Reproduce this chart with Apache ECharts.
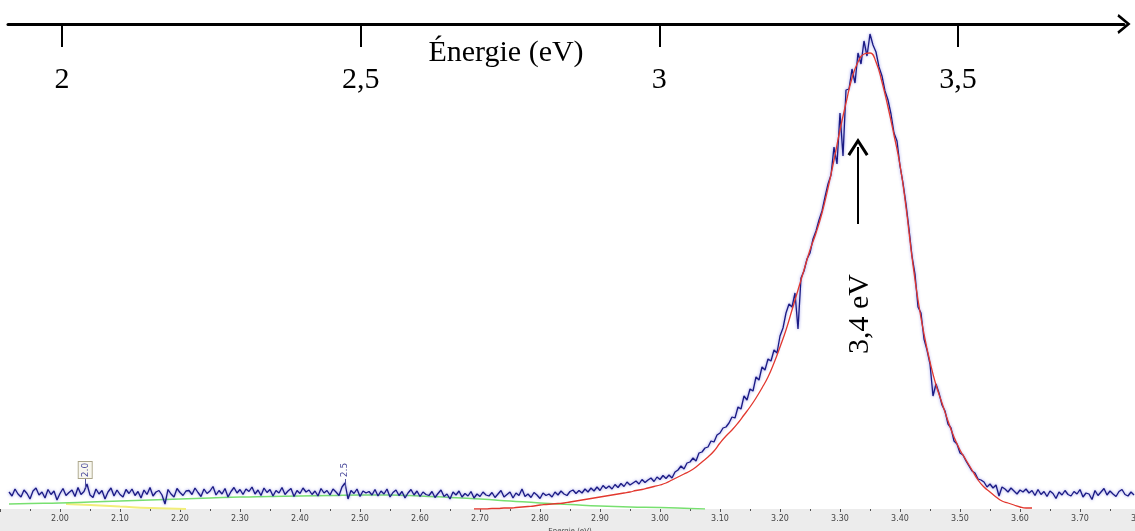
<!DOCTYPE html>
<html><head><meta charset="utf-8">
<script src="https://cdn.jsdelivr.net/npm/echarts@6/dist/echarts.min.js"></script>
<style>html,body{margin:0;padding:0;background:#fff;overflow:hidden}#c{width:1135px;height:531px}</style>
</head><body><div id="c"></div>
<script>
// ---- data (intensity, arbitrary units) ----
const blueStart = 1.915, blueStep = 0.005;
const blueIntensity = [
 34,26,40,30,24,38,31,20,36,42,28,34,22,39,29,36,18,31,41,27,
 33,38,25,43,29,35,50,28,23,40,30,37,20,34,42,26,38,29,24,39,
 31,40,27,35,22,38,29,43,26,34,37,28,10,39,30,24,41,33,27,36,
 37,29,42,33,25,40,31,36,45,28,37,30,41,24,35,43,32,39,29,40,
 35,44,30,38,27,42,33,39,26,37,32,43,29,36,41,25,37,31,42,34,
 38,29,36,26,41,32,37,28,40,34,27,44,52,20,37,31,40,25,36,32,
 35,28,39,26,36,30,40,24,33,38,27,35,22,32,39,28,36,25,34,29,
 27,35,23,31,38,25,30,20,34,28,36,24,31,26,35,22,30,25,34,28,
 26,33,23,30,37,24,29,34,22,32,27,40,25,30,23,33,28,21,32,27,
 30,24,34,28,36,30,27,35,38,31,37,32,40,34,42,36,44,37,47,41,
 46,40,49,43,51,45,54,48,52,56,50,59,53,58,62,55,64,59,67,61,
 68,62,74,78,86,80,92,94,102,96,112,114,122,124,136,134,148,152,162,164,
 172,184,182,204,200,226,218,240,236,264,258,284,278,300,296,318,312,346,362,392,
 410,404,432,360,462,476,500,512,540,556,578,596,624,650,668,724,690,792,706,838,
 840,880,852,912,890,936,906,950,928,914,884,866,836,818,790,752,736,686,652,610,
 560,506,470,404,392,340,318,290,226,250,232,208,196,170,162,136,130,112,108,96,
 86,76,72,60,58,54,44,50,42,48,26,44,40,34,42,36,30,38,34,40,
 32,37,27,39,29,35,25,36,31,21,34,28,37,29,26,35,30,39,24,32,
 30,19,37,27,34,41,28,36,30,25,35,39,29,26,34,28
];
const fitStart = 2.69, fitStep = 0.01;
const fitIntensity = [
 0,0,0,1,1,2,2,3,4,5,
 6,8,9,10,11,12,14,16,18,20,
 22,24,26,28,30,32,34,37,39,42,
 45,48,52,58,64,70,76,84,94,104,
 116,132,146,158,172,188,204,222,242,264,
 292,324,358,398,438,478,518,552,592,642,
 698,758,812,862,894,910,912,894,854,804,
 748,688,604,504,418,350,294,248,212,176,
 144,118,98,78,58,44,34,24,16,12,
 8,4,2,2
];
const greenEnergy = [1.915,1.95,2.00,2.05,2.10,2.15,2.20,2.25,2.30,2.35,2.40,2.45,2.50,2.55,2.60,2.65,2.70,2.75,2.80,2.85,2.90,2.95,3.00,3.05,3.075];
const greenIntensity = [10,11,12,14,16,18,20,22,24,25,26,27,28,28,26,23,20,16,12,9,6,4,3,1,0];
const yellowEnergy = [2.01,2.05,2.10,2.15,2.21];
const yellowIntensity = [10,8,5,2,0];
const topTickValues = [2, 2.5, 3, 3.5];
const topAxisTitle = 'Énergie (eV)';
const bottomAxisTitle = 'Energie (eV)';
const peakText = '3,4 eV';
const peakMarks = [{e:2.042, label:'2.0', boxed:true}, {e:2.475, label:'2.5', boxed:false}];

// ---- build ----
const blueData = blueIntensity.map((v,i)=>[+(blueStart+i*blueStep).toFixed(3), v]);
const fitData = fitIntensity.map((v,i)=>[+(fitStart+i*fitStep).toFixed(2), v]);
const greenData = greenEnergy.map((e,i)=>[e, greenIntensity[i]]);
const yellowData = yellowEnergy.map((e,i)=>[e, yellowIntensity[i]]);

const chevron = 'path://M0,12 L10,0 L20,12 L17.6,13.2 L10,4 L2.4,13.2 Z';
const serif = '"Liberation Serif", "Times New Roman", serif';

const chart = echarts.init(document.getElementById('c'), null, {renderer:'canvas'});
const markPointData = [];
const markLineData = [];
peakMarks.forEach(p=>{
  markPointData.push({
    coord:[p.e, 78], symbol:'rect', symbolSize: p.boxed ? [14,17] : [1,1],
    itemStyle: p.boxed ? {color:'#f8f7ef', borderColor:'#aaa488', borderWidth:1} : {color:'rgba(0,0,0,0)'},
    label:{show:true, position:'inside', formatter:p.label, rotate:90, fontSize:9, color:'#4c4c9c', fontFamily:'"DejaVu Sans", sans-serif'}
  });
  markLineData.push([{coord:[p.e, 60], symbol:'none'}, {coord:[p.e, 42], symbol:'none', lineStyle:{color:'#5050a0', width:1}}]);
});
markPointData.push({
  coord:[3.3333, 390], symbol:'rect', symbolSize:[1,1], itemStyle:{color:'rgba(0,0,0,0)'},
  label:{show:true, position:'inside', formatter:peakText, rotate:90, fontSize:30, fontFamily:serif, color:'#000'}
});
markLineData.push([{coord:[3.33, 570], symbol:'none'}, {coord:[3.33, 724], symbol:chevron, symbolSize:[21,18], lineStyle:{color:'#000', width:2, type:'solid'}}]);

chart.setOption({
  animation:false,
  backgroundColor:'#fff',
  grid:[
    {left:0, right:-5, top:9, bottom:22, containLabel:false, outerBoundsMode:'none'},
    {left:8, right:11, top:23, height:1, containLabel:false, outerBoundsMode:'none'}
  ],
  xAxis:[
    {type:'value', gridIndex:0, min:1.9, max:3.8, interval:0.1, position:'bottom',
     axisLine:{show:false},
     axisTick:{show:true, length:3, lineStyle:{color:'#555', width:1}},
     minorTick:{show:true, splitNumber:2, length:2, lineStyle:{color:'#555'}},
     splitLine:{show:false},
     axisLabel:{show:true, fontSize:8, color:'#444', margin:6, fontFamily:'"DejaVu Sans", sans-serif', showMinLabel:false,
       formatter:v=>v.toFixed(2)},
     name:bottomAxisTitle, nameLocation:'middle', nameGap:16, nameTextStyle:{fontSize:7, color:'#444', fontFamily:'"DejaVu Sans", sans-serif'}
    },
    {type:'value', gridIndex:1, min:1.9096, max:3.7779, position:'top',
     axisLine:{show:true, lineStyle:{color:'#000', width:3}, symbol:['none', chevron], symbolSize:[20,14]},
     axisTick:{show:true, inside:true, length:23, lineStyle:{color:'#000', width:2}, customValues:topTickValues},
     axisLabel:{show:true, inside:true, margin:42, fontSize:30, fontFamily:serif, color:'#000', customValues:topTickValues,
       formatter:v=>String(v).replace('.', ',')},
     splitLine:{show:false}
    }
  ],
  yAxis:[
    {type:'value', gridIndex:0, min:0, max:1000, show:false},
    {type:'value', gridIndex:1, min:0, max:1, show:false}
  ],
  graphic:{elements:[
    {type:'rect', silent:true, z:-100, shape:{x:0, y:509, width:1135, height:22}, style:{fill:'#ececec'}},
    {type:'text', silent:true, x:506, y:53, style:{text:topAxisTitle, font:'30px ' + serif, fill:'#000', align:'center', verticalAlign:'middle'}}
  ]},
  series:[
    {type:'line', name:'yellow', xAxisIndex:0, yAxisIndex:0, data:yellowData, showSymbol:false, smooth:true,
     lineStyle:{color:'#f2ee7a', width:2}, z:1},
    {type:'line', name:'green', xAxisIndex:0, yAxisIndex:0, data:greenData, showSymbol:false, smooth:true,
     lineStyle:{color:'#78e070', width:1.5}, z:1},
    {type:'line', name:'spectre', xAxisIndex:0, yAxisIndex:0, data:blueData, showSymbol:false,
     lineStyle:{color:'#1a1a84', width:1.3, shadowColor:'rgba(90,90,220,0.7)', shadowBlur:3}, z:2,
     markPoint:{silent:true, data:markPointData},
     markLine:{silent:true, symbol:['none','none'], label:{show:false}, lineStyle:{color:'#5050a0', width:1, type:'solid'}, data:markLineData}
    },
    {type:'line', name:'fit', xAxisIndex:0, yAxisIndex:0, data:fitData, showSymbol:false, smooth:true,
     lineStyle:{color:'#e2382f', width:1.3}, z:3}
  ]
});
</script></body></html>
